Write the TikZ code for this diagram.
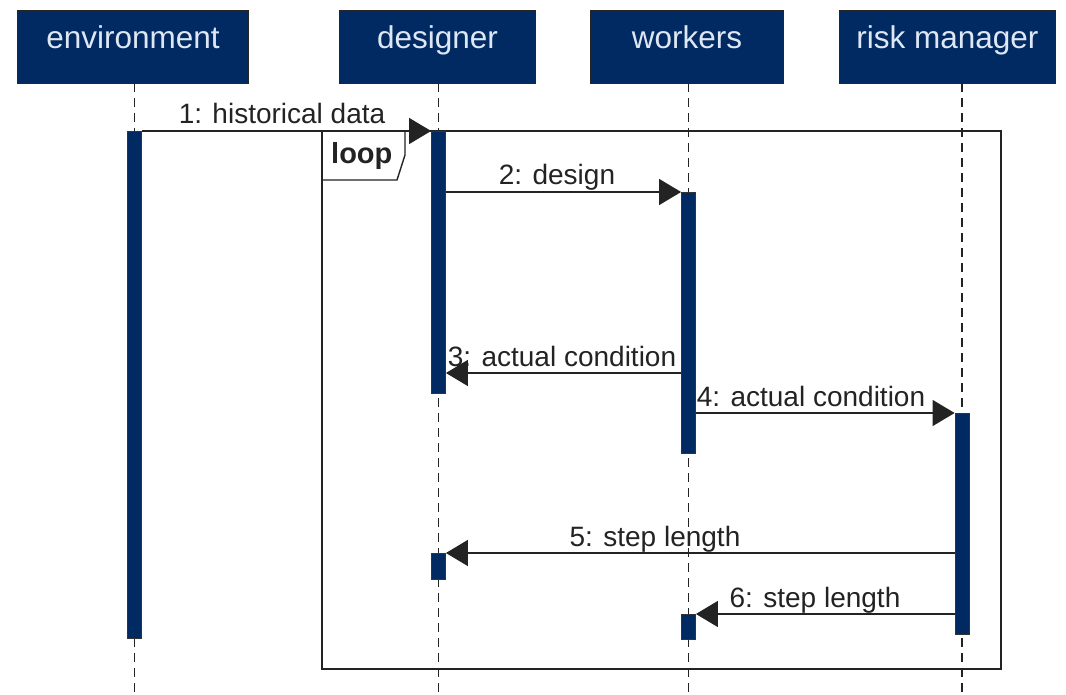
\documentclass[tikz,border=0pt]{standalone}
\usepackage{fontspec}
\setmainfont{Liberation Sans}
\usetikzlibrary{arrows.meta}
\definecolor{navy}{RGB}{2,42,98}
\definecolor{headtext}{RGB}{222,232,245}
\definecolor{ink}{RGB}{35,35,35}

\begin{document}
\begin{tikzpicture}[x=1pt,y=-1pt,
  head/.style={draw=black!85, line width=1pt, fill=navy, text=headtext,
    anchor=north west, minimum height=73pt, inner sep=0pt,
    text height=23pt, text depth=20pt,
    font=\fontsize{31.5}{34}\selectfont},
  bar/.style={draw=black!80, line width=0.8pt, fill=navy, anchor=north,
    minimum width=14pt, inner sep=0pt},
  life/.style={ink, line width=1.3pt, dash pattern=on 9pt off 6pt},
  msg/.style={ink, line width=1.4pt, -{Triangle[length=22pt,width=26pt]}},
  lbl/.style={anchor=base, text=ink, inner sep=0pt,
    font=\fontsize{28}{30}\selectfont},
  framebox/.style={ink, line width=1.4pt}]

\useasboundingbox (0,0) rectangle (1066,695);
\fill[white] (0,0) rectangle (1066,695);

% participants
\node[head, minimum width=231pt] (env) at (17,10) {environment};
\node[head, minimum width=196pt] (des) at (339,10) {designer};
\node[head, minimum width=193pt] (wrk) at (590,10) {workers};
\node[head, minimum width=216pt] (rsk) at (839,10) {risk manager};

% lifeline ends
\coordinate (envT) at (134.5,83);  \coordinate (envB) at (134.5,695);
\coordinate (desT) at (438.5,83);  \coordinate (desB) at (438.5,695);
\coordinate (wrkT) at (688.5,83);  \coordinate (wrkB) at (688.5,695);
\coordinate (rskT) at (962,83);    \coordinate (rskB) at (962,695);

\draw[life] (envT) -- (envB);
\draw[life] (desT) -- (desB);
\draw[life] (wrkT) -- (wrkB);
\draw[life] (rskT) -- (rskB);

% combined fragment
\draw[framebox] (322,131) rectangle (1001,669);
\draw[framebox] (405,131) -- (405,155) -- (397,180) -- (322,180);
\node[anchor=base west, inner sep=0pt, text=ink,
  font=\fontsize{29}{30}\selectfont\bfseries] (loop) at (331,164) {loop};

% activation bars
\node[bar, minimum height=507pt] (envbar) at (134.5,131) {};
\node[bar, minimum height=262pt] (desbar) at (438.5,131) {};
\node[bar, minimum height=26pt]  (desbar2) at (438.5,553) {};
\node[bar, minimum height=261pt] (wrkbar) at (688.5,192) {};
\node[bar, minimum height=25pt]  (wrkbar2) at (688.5,614) {};
\node[bar, minimum height=221pt] (rskbar) at (962,413) {};

% messages
\draw[msg] (envbar.east |- 0,131) -- (desbar.west |- 0,131);
\node[lbl] (m1) at (282,124) {1: historical data};

\draw[msg] (desbar.east |- 0,192) -- (wrkbar.west |- 0,192);
\node[lbl] (m2) at (557,185) {2: design};

\draw[msg] (wrkbar.west |- 0,373) -- (desbar.east |- 0,373);
\node[lbl] (m3) at (562,366) {3: actual condition};

\draw[msg] (wrkbar.east |- 0,413) -- (rskbar.west |- 0,413);
\node[lbl] (m4) at (811,406) {4: actual condition};

\draw[msg] (rskbar.west |- 0,553) -- (desbar2.east |- 0,553);
\node[lbl] (m5) at (655,546) {5: step length};

\draw[msg] (rskbar.west |- 0,614) -- (wrkbar2.east |- 0,614);
\node[lbl] (m6) at (815,607) {6: step length};
\end{tikzpicture}
\end{document}
